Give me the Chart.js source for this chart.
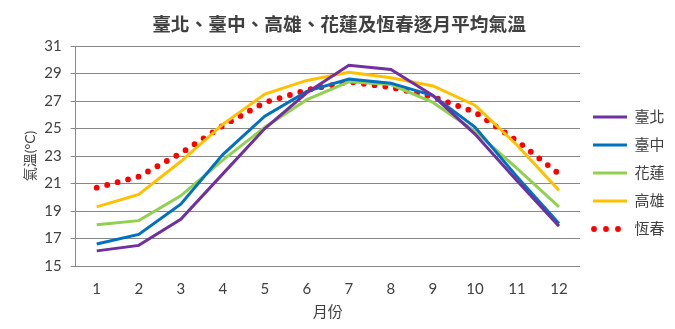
<!DOCTYPE html>
<html lang="zh-Hant">
<head>
<meta charset="utf-8">
<script src="https://cdn.jsdelivr.net/npm/chart.js@4/dist/chart.umd.min.js"></script>
<style>
  html, body { margin: 0; padding: 0; background: #fff; }
</style>
</head>
<body>
<canvas id="c" width="675" height="329"></canvas>
<script>
// Monthly mean temperatures (°C)
const months = ['1', '2', '3', '4', '5', '6', '7', '8', '9', '10', '11', '12'];
const taipei    = [16.1, 16.5, 18.4, 21.7, 25.0, 27.6, 29.6, 29.3, 27.4, 24.6, 21.2, 17.9];
const taichung  = [16.6, 17.3, 19.5, 23.1, 25.9, 27.7, 28.6, 28.3, 27.4, 25.1, 21.5, 18.1];
const hualien   = [18.0, 18.3, 20.1, 22.7, 25.1, 27.1, 28.4, 28.2, 26.9, 24.8, 22.1, 19.3];
const kaohsiung = [19.3, 20.2, 22.6, 25.3, 27.5, 28.5, 29.1, 28.7, 28.1, 26.7, 23.8, 20.5];
const hengchun  = [20.7, 21.5, 23.2, 25.2, 26.9, 27.8, 28.4, 28.0, 27.3, 26.2, 24.1, 21.7];
const yTicks    = [15, 17, 19, 21, 23, 25, 27, 29, 31];

const FONT = 'Lato, "Noto Sans CJK TC", sans-serif';
const TEXT = '#404040';
const GRID = '#888888';

function lineSet(label, data, color) {
  return { label, data, borderColor: color, backgroundColor: color, borderWidth: 3,
           pointRadius: 0, tension: 0, fill: false };
}

const datasets = [
  lineSet('臺北', taipei, '#7030a0'),
  lineSet('臺中', taichung, '#0070c0'),
  lineSet('花蓮', hualien, '#92d050'),
  lineSet('高雄', kaohsiung, '#ffc000'),
  // dotted series: zero-length dashes with round caps
  Object.assign(lineSet('恆春', hengchun, '#ff0000'),
    { borderWidth: 5.8, borderDash: [0, 10.8], borderCapStyle: 'round' })
];

new Chart(document.getElementById('c'), {
  type: 'line',
  data: { labels: months, datasets },
  options: {
    responsive: false,
    animation: false,
    layout: { padding: { left: 3.5, right: 0.5, top: 0, bottom: 8 } },
    plugins: {
      tooltip: { enabled: false },
      title: {
        display: true,
        text: '臺北、臺中、高雄、花蓮及恆春逐月平均氣溫',
        color: TEXT,
        font: { family: FONT, size: 18.7, weight: 'bold' },
        padding: { top: 13.8, bottom: 9.8 }
      },
      legend: {
        position: 'right',
        align: 'center',
        title: { display: true, text: ' ', font: { size: 10 }, padding: { top: 13, bottom: 0 } },
        labels: {
          usePointStyle: true,
          pointStyle: 'line',
          pointStyleWidth: 34,
          padding: 13,
          color: TEXT,
          font: { family: FONT, size: 15 },
          generateLabels(chart) {
            const items = Chart.defaults.plugins.legend.labels.generateLabels(chart);
            items.forEach(it => {
              const ds = chart.data.datasets[it.datasetIndex];
              if (ds.borderDash) {
                it.lineDash = [0, 12];
                it.lineDashOffset = -1;
                it.lineCap = 'round';
              }
            });
            return items;
          }
        }
      }
    },
    scales: {
      x: {
        offset: true,
        grid: { display: false, drawTicks: false },
        border: { display: false },
        ticks: { color: TEXT, font: { family: FONT, size: 15 }, padding: 14, maxRotation: 0 },
        title: { display: true, text: '月份', color: TEXT, font: { family: FONT, size: 15 }, padding: { top: -9, bottom: 0 } }
      },
      y: {
        min: 15, max: 31,
        afterBuildTicks: (axis) => { axis.ticks = yTicks.map(v => ({ value: v })); },
        grid: { color: GRID, lineWidth: 1, tickLength: 5, drawTicks: true },
        border: { display: true, color: GRID, width: 1 },
        ticks: { color: TEXT, font: { family: FONT, size: 15 }, padding: 9 },
        title: { display: true, text: '氣溫(°C)', color: TEXT, font: { family: FONT, size: 14 }, padding: { top: 19, bottom: -4 } }
      }
    }
  }
});
</script>
</body>
</html>
